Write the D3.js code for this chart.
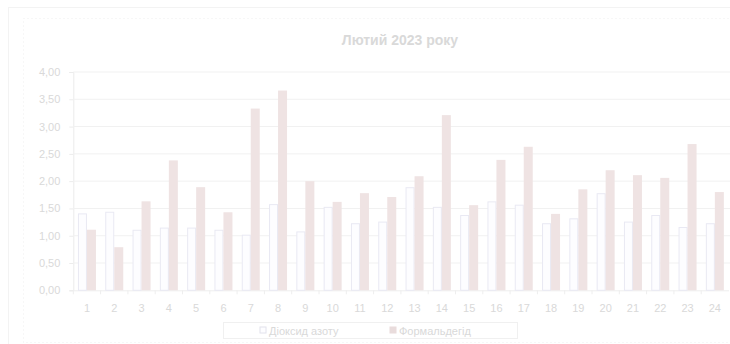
<!DOCTYPE html>
<html>
<head>
<meta charset="utf-8">
<script src="https://cdn.jsdelivr.net/npm/d3@7"></script>
<style>
  html, body { margin: 0; padding: 0; background: #fff; }
  svg { display: block; font-family: "Liberation Sans", Arial, sans-serif; }
</style>
</head>
<body>
<svg id="chart" width="730" height="344"></svg>
<script>
// Daily pollutant ratios, February 2023
const days = d3.range(1, 25).map(String);
const no2 = [1.40, 1.43, 1.10, 1.14, 1.14, 1.10, 1.01, 1.57, 1.07, 1.52, 1.22, 1.25,
             1.88, 1.52, 1.37, 1.62, 1.56, 1.22, 1.31, 1.77, 1.25, 1.37, 1.15, 1.22];
const formaldehyde = [1.11, 0.79, 1.63, 2.38, 1.89, 1.43, 3.33, 3.66, 2.00, 1.62, 1.78, 1.71,
                      2.09, 3.21, 1.56, 2.39, 2.63, 1.40, 1.85, 2.20, 2.11, 2.06, 2.68, 1.80];
const yTicks = [0, 0.5, 1, 1.5, 2, 2.5, 3, 3.5, 4];
const seriesNames = ["Діоксид азоту", "Формальдегід"];

const svg = d3.select("#chart");
const W = 730, H = 344;
const m = { left: 73.3, right: 2, top: 72, bottom: 54 };
const textCol = "#d9d9d9";

// outer frames
svg.append("rect").attr("x", 8.5).attr("y", 7.5).attr("width", W).attr("height", H)
  .attr("fill", "none").attr("stroke", "#f3f3f3");
svg.append("rect").attr("x", 23.5).attr("y", 18.5).attr("width", W).attr("height", 324)
  .attr("fill", "none").attr("stroke", "#efefef").attr("stroke-dasharray", "1,3");

const x = d3.scaleBand().domain(days).range([m.left, m.left + 24 * 27.3]).paddingInner(0).paddingOuter(0);
const y = d3.scaleLinear().domain([0, 4]).range([290.3, 72]);
const inner = d3.scaleBand().domain([0, 1]).range([0, 18]).paddingInner(0);
const bandOffset = (x.bandwidth() - 18) / 2;

// title
svg.append("text").attr("x", 400).attr("y", 45).attr("text-anchor", "middle")
  .attr("font-size", 14).attr("font-weight", "bold").attr("fill", textCol)
  .text("Лютий 2023 року");

// grid + y axis
const yAxis = svg.append("g").attr("transform", `translate(${m.left},0)`)
  .call(d3.axisLeft(y).tickValues(yTicks).tickSize(4).tickPadding(9)
    .tickFormat(d => d3.format(".2f")(d).replace(".", ",")));
yAxis.select(".domain").attr("stroke", "#ececec");
yAxis.selectAll(".tick line").attr("stroke", "#ececec");
yAxis.selectAll(".tick text").attr("fill", textCol).attr("font-size", 11)
  .attr("font-family", "Liberation Sans, Arial, sans-serif");

svg.append("g").selectAll("line").data(yTicks.slice(1)).join("line")
  .attr("x1", m.left).attr("x2", W).attr("y1", d => y(d)).attr("y2", d => y(d))
  .attr("stroke", "#f1f1f1");

// x axis
const xAxis = svg.append("g").attr("transform", `translate(0,${y(0)})`)
  .call(d3.axisBottom(x).tickSize(0).tickPadding(14));
xAxis.select(".domain").attr("stroke", "#eeeeee");
xAxis.selectAll(".tick text").attr("fill", textCol).attr("font-size", 11)
  .attr("font-family", "Liberation Sans, Arial, sans-serif");
svg.append("g").selectAll("line").data(days).join("line")
  .attr("x1", d => x(d)).attr("x2", d => x(d))
  .attr("y1", y(0)).attr("y2", y(0) + 4).attr("stroke", "#eeeeee");

// bars
const groups = svg.append("g").selectAll("g").data(days).join("g")
  .attr("transform", d => `translate(${x(d) + bandOffset},0)`);
groups.append("rect")
  .attr("x", inner(0) + 0.5).attr("width", inner.bandwidth() - 1)
  .attr("y", (d, i) => y(no2[i])).attr("height", (d, i) => y(0) - y(no2[i]))
  .attr("fill", "#fdfdff").attr("stroke", "#e9e9f3").attr("stroke-width", 1);
groups.append("rect")
  .attr("x", inner(1)).attr("width", inner.bandwidth())
  .attr("y", (d, i) => y(formaldehyde[i])).attr("height", (d, i) => y(0) - y(formaldehyde[i]))
  .attr("fill", "#efe3e3");

// legend
const lg = svg.append("g");
lg.append("rect").attr("x", 223.5).attr("y", 322.5).attr("width", 294).attr("height", 16)
  .attr("fill", "#fff").attr("stroke", "#f0f0f0");
const items = [
  { name: seriesNames[0], x: 260, fill: "#fdfdff", stroke: "#e2e2ec" },
  { name: seriesNames[1], x: 390, fill: "#e9dcdc", stroke: "#e9dcdc" }
];
items.forEach(it => {
  lg.append("rect").attr("x", it.x).attr("y", 327).attr("width", 6).attr("height", 6)
    .attr("fill", it.fill).attr("stroke", it.stroke);
  lg.append("text").attr("x", it.x + 9).attr("y", 334.5).attr("font-size", 11)
    .attr("fill", textCol).text(it.name);
});
</script>
</body>
</html>
